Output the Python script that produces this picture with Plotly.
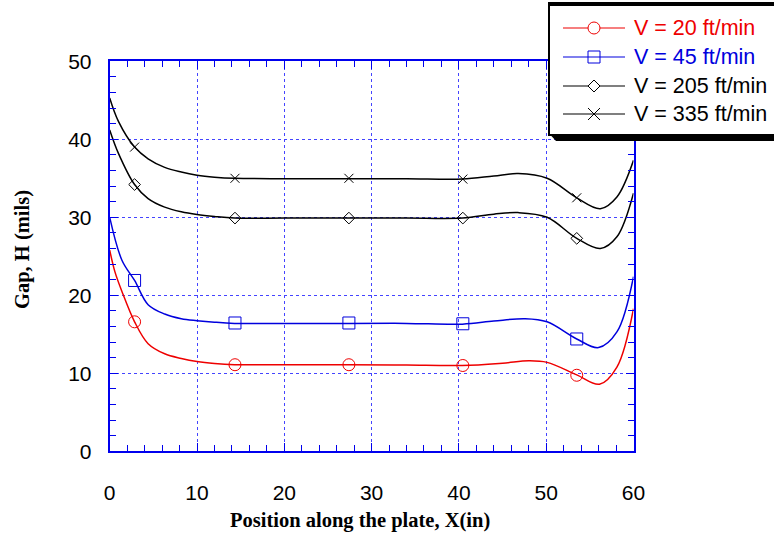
import plotly.graph_objects as go

W, H = 774, 535

# Measured points (marker positions)
x_meas = [2.85, 14.35, 27.4, 40.45, 53.5]
h_v20 = [16.6, 11.1, 11.1, 11.0, 9.75]
h_v45 = [21.9, 16.45, 16.45, 16.35, 14.4]
h_v205 = [34.2, 29.9, 29.9, 29.9, 27.3]
h_v335 = [39.0, 35.0, 35.0, 34.9, 32.5]

# Fitted profiles (knots of the smooth curves)
fit_x_v20 = [0, 0.6, 1.4, 2.85, 4.4, 6.3, 8.2, 10, 12, 14.3, 20, 27.4, 34, 40.4, 45, 48, 50.1, 53.5, 56.1, 58.1, 60]
fit_h_v20 = [25.8, 23.0, 20.5, 16.6, 13.8, 12.5, 11.9, 11.5, 11.25, 11.1, 11.1, 11.1, 11.05, 11.0, 11.3, 11.6, 11.4, 9.8, 8.6, 10.8, 18.3]
fit_x_v45 = [0, 1.4, 2.85, 4.4, 6.3, 8.2, 10, 12, 14.3, 20, 27.4, 34, 40.4, 44, 47.6, 50.1, 53.5, 56.0, 58.1, 60]
fit_h_v45 = [30.0, 24.5, 21.9, 18.8, 17.6, 17.0, 16.75, 16.55, 16.4, 16.4, 16.4, 16.4, 16.3, 16.7, 17.0, 16.6, 14.4, 13.3, 15.3, 22.4]
fit_x_v205 = [0, 1.0, 2.85, 4.4, 6.3, 8.2, 10, 12, 14.3, 20, 27.4, 34, 40.4, 44, 46.8, 50.1, 53.5, 56.2, 58.1, 60]
fit_h_v205 = [41.2, 38.2, 34.2, 32.4, 31.3, 30.7, 30.35, 30.1, 29.9, 29.9, 29.9, 29.9, 29.9, 30.4, 30.6, 30.0, 27.3, 26.0, 27.5, 33.1]
fit_x_v335 = [0, 1.0, 2.85, 4.4, 6.3, 8.2, 10, 12, 14.3, 20, 27.4, 34, 40.4, 44, 46.8, 50.1, 53.5, 56.2, 58.1, 60]
fit_h_v335 = [45.3, 42.3, 39.0, 37.5, 36.4, 35.8, 35.4, 35.15, 35.0, 34.95, 34.95, 34.95, 34.9, 35.3, 35.6, 35.0, 32.5, 31.1, 32.6, 37.3]

labels = ["V = 20 ft/min", "V = 45 ft/min", "V = 205 ft/min", "V = 335 ft/min"]
colors = ["#ee0000", "#0000dd", "#000000", "#000000"]
symbols = ["circle-open", "square-open", "diamond-open", "x-thin-open"]
sizes = [12, 12, 9, 9]

x_ticks = [0, 10, 20, 30, 40, 50, 60]
y_ticks = [0, 10, 20, 30, 40, 50]

series = [
    (fit_x_v20, fit_h_v20, h_v20),
    (fit_x_v45, fit_h_v45, h_v45),
    (fit_x_v205, fit_h_v205, h_v205),
    (fit_x_v335, fit_h_v335, h_v335),
]

fig = go.Figure()
for (fx_, fh_, mh), lab, col, sym, sz in zip(series, labels, colors, symbols, sizes):
    fig.add_trace(go.Scatter(x=fx_, y=fh_, mode="lines", name=lab,
                             line=dict(color=col, width=1.5, shape="spline", smoothing=1.0),
                             showlegend=False, hoverinfo="skip"))
    fig.add_trace(go.Scatter(x=x_meas, y=mh, mode="markers", name=lab,
                             marker=dict(symbol=sym, size=sz, color=col, line=dict(color=col, width=1)),
                             showlegend=False))

axis_col = "#0000ee"
grid_col = "#4444ff"
common = dict(showline=True, linecolor=axis_col, linewidth=2, mirror="allticks",
              ticks="inside", ticklen=8, tickcolor=axis_col, tickwidth=1,
              showgrid=True, gridcolor=grid_col, griddash="3px,3px", gridwidth=1,
              zeroline=False, automargin=False,
              tickfont=dict(family="Liberation Sans, Arial", size=21, color="black"),
              minor=dict(ticks="inside", ticklen=6, tickcolor=axis_col, tickwidth=1, dtick=2, showgrid=False))

fig.update_xaxes(range=[0, 60], tickvals=x_ticks, domain=[109.7 / W, 633.5 / W],
                 ticklabelstandoff=21, **common)
fig.update_yaxes(range=[0, 50], tickvals=y_ticks, domain=[(H - 451.3) / H, (H - 61.3) / H],
                 ticklabelstandoff=12, **common)


def px(p):
    return p / W


def py(p):
    return 1 - p / H


shapes = []
# legend box with drop shadow
shapes.append(dict(type="rect", xref="paper", yref="paper", x0=px(549), x1=px(790), y0=py(3), y1=py(135),
                   line=dict(color="black", width=2), fillcolor="white", layer="above"))
shapes.append(dict(type="rect", xref="paper", yref="paper", x0=px(549), x1=px(790), y0=py(2), y1=py(6),
                   line=dict(width=0), fillcolor="black", layer="above"))
shapes.append(dict(type="path", xref="paper", yref="paper",
                   path=f"M {px(550)},{py(134.5)} L {px(556)},{py(141)} L {px(790)},{py(141)} L {px(790)},{py(134.5)} Z",
                   line=dict(width=0), fillcolor="black", layer="above"))

row_y = [28, 57, 86, 114]
lx0, lx1, mx, tx = 563, 625, 594, 632
for i, (yc, col) in enumerate(zip(row_y, colors)):
    shapes.append(dict(type="line", xref="paper", yref="paper", x0=px(lx0), x1=px(lx1), y0=py(yc), y1=py(yc),
                       line=dict(color=col, width=1.2), layer="above"))
    r = 6
    if i == 0:
        shapes.append(dict(type="circle", xref="paper", yref="paper", x0=px(mx - r), x1=px(mx + r),
                           y0=py(yc - r), y1=py(yc + r), line=dict(color=col, width=1), fillcolor="white",
                           layer="above"))
    elif i == 1:
        shapes.append(dict(type="rect", xref="paper", yref="paper", x0=px(mx - r), x1=px(mx + r),
                           y0=py(yc - r), y1=py(yc + r), line=dict(color=col, width=1), fillcolor="rgba(0,0,0,0)",
                           layer="above"))
    elif i == 2:
        path = (f"M {px(mx - r)},{py(yc)} L {px(mx)},{py(yc - r)} L {px(mx + r)},{py(yc)} "
                f"L {px(mx)},{py(yc + r)} Z")
        shapes.append(dict(type="path", xref="paper", yref="paper", path=path,
                           line=dict(color=col, width=1), fillcolor="white", layer="above"))
    else:
        path = (f"M {px(mx - r)},{py(yc - r)} L {px(mx + r)},{py(yc + r)} "
                f"M {px(mx - r)},{py(yc + r)} L {px(mx + r)},{py(yc - r)}")
        shapes.append(dict(type="path", xref="paper", yref="paper", path=path,
                           line=dict(color=col, width=1), layer="above"))

annotations = []
for yc, lab, col in zip(row_y, labels, colors):
    annotations.append(dict(xref="paper", yref="paper", x=px(tx), y=py(yc), text=lab, showarrow=False,
                            xanchor="left", yanchor="middle",
                            font=dict(family="Liberation Sans, Arial", size=21.5, color=col)))

annotations.append(dict(xref="paper", yref="paper", x=px(360), y=py(520),
                        text="<b>Position along the plate, X(in)</b>",
                        showarrow=False, xanchor="center", yanchor="middle",
                        font=dict(family="Liberation Serif, Times New Roman", size=20.5, color="black")))
annotations.append(dict(xref="paper", yref="paper", x=px(22), y=py(250), text="<b>Gap, H (mils)</b>",
                        showarrow=False, xanchor="center", yanchor="middle", textangle=-90,
                        font=dict(family="Liberation Serif, Times New Roman", size=20.5, color="black")))

fig.update_layout(width=W, height=H, margin=dict(l=0, r=0, t=0, b=0, autoexpand=False),
                  paper_bgcolor="white", plot_bgcolor="white",
                  shapes=shapes, annotations=annotations, showlegend=False)

fig.write_html("out.html")
